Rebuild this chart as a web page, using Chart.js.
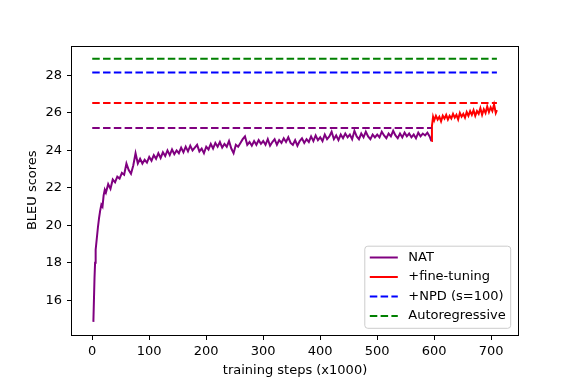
<!DOCTYPE html>
<html>
<head>
<meta charset="utf-8">
<script src="https://cdn.jsdelivr.net/npm/chart.js@4/dist/chart.umd.min.js"></script>
<style>
  body { margin: 0; background: #fff; }
</style>
</head>
<body>
<canvas id="bleu" width="575" height="383"></canvas>
<script>
// NAT training curve (steps in thousands)
const natSteps = [
  2, 4, 5, 6, 8, 10, 12, 14, 16, 18, 20, 22,
  24, 28, 32, 36, 40, 44, 48, 52, 56, 60,
  64, 68, 72, 76, 80, 84, 88, 92, 96, 100,
  104, 108, 112, 116, 120, 124, 128, 132, 136, 140,
  144, 148, 152, 156, 160, 164, 168, 172, 176, 180,
  184, 188, 192, 196, 200, 204, 208, 212, 216, 220,
  224, 228, 232, 236, 240, 244, 248, 252, 256, 260,
  264, 268, 272, 276, 280, 284, 288, 292, 296, 300,
  304, 308, 312, 316, 320, 324, 328, 332, 336, 340,
  344, 348, 352, 356, 360, 364, 368, 372, 376, 380,
  384, 388, 392, 396, 400, 404, 408, 412, 416, 420,
  424, 428, 432, 436, 440, 444, 448, 452, 456, 460,
  464, 468, 472, 476, 480, 484, 488, 492, 496, 500,
  504, 508, 512, 516, 520, 524, 528, 532, 536, 540,
  544, 548, 552, 556, 560, 564, 568, 572, 576, 580,
  584, 588, 592, 595
];
const natBleu = [
  14.85, 17.2, 18.0, 18.7, 19.3, 19.9, 20.4, 20.8, 21.1, 21.0, 21.6, 21.9,
  21.75, 22.2, 21.95, 22.45, 22.3, 22.6, 22.5, 22.8, 22.7, 23.3,
  22.95, 22.75, 23.2, 23.85, 23.3, 23.55, 23.3, 23.5, 23.35, 23.65,
  23.45, 23.75, 23.55, 23.85, 23.6, 23.9, 23.7, 24.0, 23.75, 24.05,
  23.8, 24.0, 23.85, 24.15, 23.9, 24.2, 23.95, 24.25, 24.0, 24.15,
  24.3, 23.95, 24.1, 23.85, 24.2, 24.05, 24.35, 24.1, 24.4, 24.2,
  24.45, 24.15, 24.35, 24.2, 24.5, 24.1, 23.85, 24.3, 24.2, 24.4,
  24.6, 24.75, 24.3, 24.45, 24.25, 24.5, 24.3, 24.55, 24.35, 24.5,
  24.3, 24.6, 24.25, 24.45, 24.6, 24.3, 24.55, 24.4, 24.65, 24.45,
  24.7, 24.4, 24.3, 24.55, 24.25, 24.5, 24.65, 24.4, 24.6, 24.45,
  24.75, 24.5, 24.8, 24.55, 24.7, 24.5, 24.85, 24.6, 24.75, 25.0,
  24.6, 24.8, 24.55, 24.85, 24.65, 24.9, 24.7, 24.85, 24.6, 25.05,
  24.75, 24.6, 24.9, 24.7, 25.0, 24.75, 24.6, 24.85, 24.7, 24.85,
  24.7, 25.0, 24.8, 24.65, 24.9, 24.75, 25.05, 24.8, 24.65, 24.9,
  24.7, 24.95, 24.75, 24.9, 24.7, 24.85, 24.65, 24.95, 24.75, 24.9,
  24.8, 24.95, 24.75, 24.5
];
// fine-tuning continuation
const ftSteps = [
  595, 596, 598,
  600, 603, 606, 609, 612, 615, 618, 621, 624, 627,
  630, 633, 636, 639, 642, 645, 648, 651, 654, 657,
  660, 663, 666, 669, 672, 675, 678, 681, 684, 687,
  690, 693, 696, 699, 702, 705, 708, 710
];
const ftBleu = [
  24.5, 25.3, 25.8,
  25.6, 25.85, 25.65, 25.8, 25.55, 25.85, 25.7, 25.9, 25.65, 25.85,
  25.7, 25.95, 25.75, 25.9, 25.65, 26.0, 25.8, 25.95, 25.75, 26.05,
  25.85, 26.1, 25.9, 26.15, 25.85, 26.1, 25.95, 26.25, 25.9, 26.2,
  26.0, 26.35, 26.05, 26.3, 26.1, 26.45, 26.0, 26.15
];

// reference levels (dashed)
const natBestBleu = 25.2;
const ftBestBleu = 26.53;
const npdBleu = 28.16;
const arBleu = 28.89;
const natLineSteps = [0, 595];
const fullLineSteps = [0, 710];

const xTicks = [0, 100, 200, 300, 400, 500, 600, 700];
const yTicks = [16, 18, 20, 22, 24, 26, 28];
const legendOrder = ["NAT", "+fine-tuning", "+NPD (s=100)", "Autoregressive"];

const pts = (xs, ys) => xs.map((x, i) => ({ x, y: ys[i] }));
const flat = (xs, v) => xs.map((x) => ({ x, y: v }));

const DASH = [7.5, 3.3];

Chart.defaults.font.family = "'DejaVu Sans', sans-serif";
Chart.defaults.font.size = 13;
Chart.defaults.color = "#000";

// axes frame like matplotlib spines
const frame = {
  id: "frame",
  afterDatasetsDraw(chart) {
    const { ctx, chartArea: a } = chart;
    ctx.save();
    ctx.strokeStyle = "#000";
    ctx.lineWidth = 1;
    ctx.strokeRect(Math.round(a.left) - 0.5, Math.round(a.top) + 0.5,
      Math.round(a.right - a.left) + 1, Math.round(a.bottom - a.top) - 1);
    ctx.restore();
  },
};

// legend box in the lower right corner of the axes
const legendBox = {
  id: "legendBox",
  afterDatasetsDraw(chart) {
    const { ctx, chartArea } = chart;
    const items = legendOrder.map((l) => chart.data.datasets.find((d) => d.label === l));
    ctx.save();
    ctx.font = "13px 'DejaVu Sans'";
    const textW = Math.max(...items.map((d) => ctx.measureText(d.label).width));
    const rowH = 19.5;
    const w = 5 + 28 + 10.5 + textW + 5;
    const h = 11.3 + rowH * (items.length - 1) + 12.3;
    const x = chartArea.right - 7.3 - w;
    const y = chartArea.bottom - 6.7 - h;
    ctx.beginPath();
    ctx.roundRect(x, y, w, h, 3);
    ctx.fillStyle = "rgba(255,255,255,0.8)";
    ctx.fill();
    ctx.strokeStyle = "#cccccc";
    ctx.lineWidth = 1;
    ctx.stroke();
    items.forEach((d, i) => {
      const cy = y + 11.3 + i * rowH;
      ctx.beginPath();
      ctx.setLineDash(d.borderDash || []);
      ctx.strokeStyle = d.borderColor;
      ctx.lineWidth = 2;
      ctx.moveTo(x + 5, cy);
      ctx.lineTo(x + 33, cy);
      ctx.stroke();
      ctx.setLineDash([]);
      ctx.fillStyle = "#000";
      ctx.textBaseline = "middle";
      ctx.textAlign = "left";
      ctx.fillText(d.label, x + 43.5, cy);
    });
    ctx.restore();
  },
};

const line = (label, data, color, extra = {}) => ({
  label,
  data,
  borderColor: color,
  backgroundColor: color,
  borderWidth: 2,
  pointRadius: 0,
  tension: 0,
  fill: false,
  ...extra,
});

new Chart(document.getElementById("bleu"), {
  type: "line",
  data: {
    datasets: [
      line("NAT best", flat(natLineSteps, natBestBleu), "#800080", { borderDash: DASH }),
      line("fine-tuning best", flat(fullLineSteps, ftBestBleu), "#ff0000", { borderDash: DASH }),
      line("+NPD (s=100)", flat(fullLineSteps, npdBleu), "#0000ff", { borderDash: DASH }),
      line("Autoregressive", flat(fullLineSteps, arBleu), "#008000", { borderDash: DASH }),
      line("+fine-tuning", pts(ftSteps, ftBleu), "#ff0000"),
      line("NAT", pts(natSteps, natBleu), "#800080"),
    ],
  },
  options: {
    responsive: false,
    animation: false,
    layout: { padding: { left: 0, top: 45.5, right: 57, bottom: 0 } },
    plugins: { legend: { display: false }, tooltip: { enabled: false } },
    scales: {
      x: {
        type: "linear",
        min: -35.5,
        max: 747,
        afterBuildTicks: (s) => { s.ticks = xTicks.map((v) => ({ value: v })); },
        afterFit: (s) => { s.height = 48; },
        ticks: { padding: 4, maxRotation: 0 },
        grid: { drawOnChartArea: false, tickLength: 5, color: "#000" },
        border: { display: false },
        title: { display: true, text: "training steps (x1000)", padding: { top: 0, bottom: 5 } },
      },
      y: {
        min: 14.15,
        max: 29.6,
        afterBuildTicks: (s) => { s.ticks = yTicks.map((v) => ({ value: v })); },
        afterFit: (s) => { s.width = 72; },
        ticks: { padding: 5 },
        grid: { drawOnChartArea: false, tickLength: 5, color: "#000" },
        border: { display: false },
        title: { display: true, text: "BLEU scores", padding: { top: 25, bottom: 0 } },
      },
    },
  },
  plugins: [frame, legendBox],
});
</script>
</body>
</html>
